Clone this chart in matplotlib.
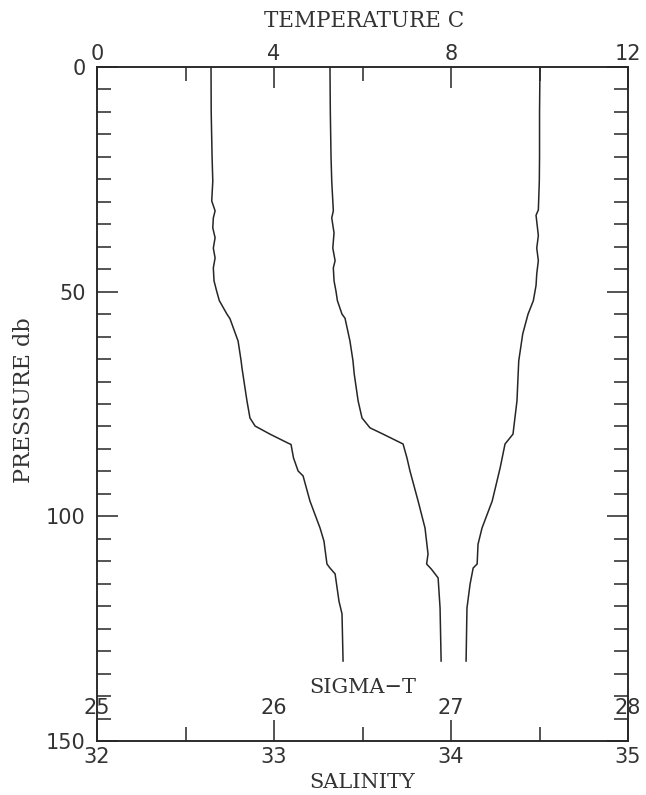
import matplotlib
matplotlib.use("Agg")
import matplotlib.pyplot as plt
import numpy as np

# profiles (pressure in db)
p_sigma = [0, 10, 20, 25.4, 29.8, 32, 33.6, 35.8, 38, 40.3, 42.5, 44.7, 47.6, 49.9,
           52, 55, 56, 61, 65.4, 67, 74.3, 78.1, 79.9, 81.7, 83.7, 84, 87, 89.9, 91,
           96.6, 102.6, 105.5, 110.6, 111.5, 112.8, 118.9, 121.7, 132.2]
sigma_t = [25.644, 25.645, 25.650, 25.654, 25.648, 25.667, 25.657, 25.654, 25.667,
           25.657, 25.667, 25.657, 25.661, 25.676, 25.691, 25.734, 25.751, 25.797,
           25.814, 25.819, 25.847, 25.864, 25.893, 25.977, 26.079, 26.096, 26.110,
           26.136, 26.164, 26.203, 26.260, 26.282, 26.299, 26.316, 26.345, 26.367,
           26.384, 26.390]

p_sal = [0, 10, 20, 25.4, 32, 33.6, 36.9, 40.3, 43.1, 44.7, 47.6, 49.9, 52, 55, 55.9,
         61, 65.4, 68.3, 74.3, 78.1, 80.3, 81.7, 83.9, 87, 89.9, 96.6, 102.6, 108.4,
         110.6, 111.8, 113.7, 120.4, 132.2]
salinity = [33.316, 33.318, 33.322, 33.326, 33.335, 33.326, 33.339, 33.332, 33.345,
            33.335, 33.339, 33.350, 33.358, 33.384, 33.401, 33.429, 33.446, 33.453,
            33.475, 33.497, 33.542, 33.616, 33.729, 33.751, 33.768, 33.814, 33.853,
            33.870, 33.862, 33.890, 33.927, 33.938, 33.944]

p_temp = [0, 10, 20, 25.4, 31.8, 33, 37.5, 40.3, 43.1, 46, 48.6, 52, 55, 59.4, 65.4,
          74.3, 81.7, 83.9, 89.2, 96.6, 102.6, 106.2, 110.6, 111.5, 115.1, 120.4, 132.2]
temperature = [10.01, 10.0, 10.0, 9.995, 9.973, 9.921, 9.973, 9.937, 9.973, 9.937,
               9.921, 9.860, 9.74, 9.62, 9.53, 9.49, 9.40, 9.22, 9.11, 8.93, 8.70,
               8.61, 8.59, 8.50, 8.43, 8.36, 8.34]

temp_ticks = [0, 4, 8, 12]
sal_ticks = [32, 33, 34, 35]
sigma_ticks = [25, 26, 27, 28]
p_ticks = [0, 50, 100, 150]

ink = "#262626"
txt = "#333333"
plt.rcParams['font.family'] = 'DejaVu Sans'
plt.rcParams['axes.linewidth'] = 1.1
plt.rcParams['axes.edgecolor'] = ink

fig = plt.figure(figsize=(6.46, 7.95), dpi=100)
ax = fig.add_axes([0.1502, 0.0679, 0.822, 0.8478])
# twins first: twiny() moves the parent's x ticks to the bottom
ax_s = ax.twiny()
ax_g = ax.twiny()

# temperature on top axis
ax.plot(temperature, p_temp, color=ink, lw=1.1)
ax.set_xlim(0, 12)
ax.set_ylim(150, 0)
ax.xaxis.set_ticks_position('top')
ax.set_xticks(temp_ticks)
ax.set_xticks([2, 6, 10], minor=True)
ax.set_yticks(p_ticks)
ax.set_yticks(np.arange(0, 151, 5), minor=True)
ax.tick_params(axis='both', which='both', direction='in', color=ink, width=1.1,
               labelsize=15, labelcolor=txt)
ax.tick_params(axis='both', which='major', length=15)
ax.tick_params(axis='both', which='minor', length=10)
ax.tick_params(axis='y', which='both', left=True, right=True, pad=8)
ax.tick_params(axis='x', which='both', top=True, bottom=False,
               labeltop=True, labelbottom=False, pad=2)

# salinity on bottom axis
ax_s.plot(salinity, p_sal, color=ink, lw=1.1)
ax_s.set_xlim(32, 35)
ax_s.xaxis.set_ticks_position('bottom')
ax_s.set_xticks(sal_ticks)
ax_s.set_xticks([32.5, 33.5, 34.5], minor=True)
ax_s.tick_params(axis='x', which='both', direction='in', color=ink, width=1.1,
                 labelsize=15, labelcolor=txt, pad=4)
ax_s.tick_params(axis='x', which='major', length=15)
ax_s.tick_params(axis='x', which='minor', length=10)

# sigma-t, labels drawn inside the frame
ax_g.plot(sigma_t, p_sigma, color=ink, lw=1.1)
ax_g.set_xlim(25, 28)
ax_g.xaxis.set_ticks_position('bottom')
ax_g.set_xticks(sigma_ticks)
ax_g.tick_params(axis='x', direction='in', length=0, labelsize=15,
                 labelcolor=txt, pad=-31)
for sp in ax_g.spines.values():
    sp.set_visible(False)

serif = 'DejaVu Serif'
ax.text(0.5, 0.080, "SIGMA\u2212T", transform=ax.transAxes, ha='center', va='center',
        fontsize=15, family=serif, color=txt)
fig.text(364 / 646, 1 - 21 / 795, "TEMPERATURE C", ha='center', va='center',
         fontsize=15.5, family=serif, color=txt)
fig.text(362 / 646, 1 - 782 / 795, "SALINITY", ha='center', va='center',
         fontsize=15, family=serif, color=txt)
fig.text(24 / 646, 1 - 400 / 795, "PRESSURE db", ha='center', va='center',
         rotation=90, fontsize=16, family=serif, color=txt)

fig.savefig("out.png", dpi=100)
